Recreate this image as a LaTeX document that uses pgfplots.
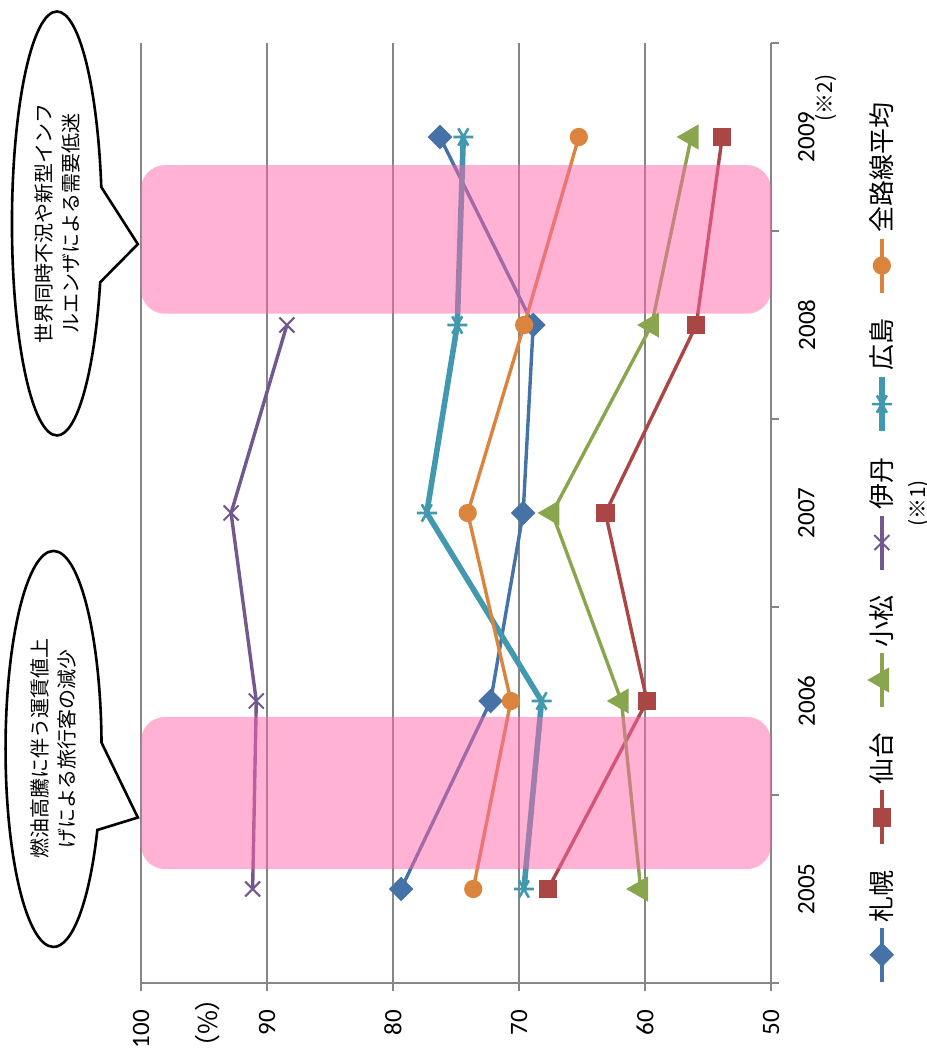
\documentclass[border=0pt]{standalone}
\usepackage{fontspec}
\setmainfont{Carlito}
\newfontfamily\jp{Noto Sans CJK JP}
\usepackage{pgfplots}
\pgfplotsset{compat=1.18}
\usetikzlibrary{shapes.callouts}

\definecolor{sapporo}{HTML}{4572A7}
\definecolor{sendai}{HTML}{AA4643}
\definecolor{komatsu}{HTML}{89A54E}
\definecolor{itami}{HTML}{71588F}
\definecolor{hiroshima}{HTML}{4198AF}
\definecolor{heikin}{HTML}{DB843D}
\definecolor{gridgray}{HTML}{868686}
\definecolor{boxpink}{HTML}{FF66AA}

\begin{document}
% the chart is drawn upright and turned a quarter turn, as in the source
\begin{tikzpicture}[rotate=90, transform shape]
\begin{axis}[
  scale only axis, width=470pt, height=315pt,
  xmin=2004.5, xmax=2009.5, ymin=50, ymax=100,
  axis lines*=left,
  axis line style={gridgray, line width=1pt},
  xtick={2005,2006,2007,2008,2009},
  xticklabels={2005,2006,2007,2008,{2009\makebox[0pt][l]{\hspace{-5pt}\raisebox{-9pt}{\jp\fontsize{10.5}{11}\selectfont(※2)}}}},
  major x tick style={draw=none},
  minor xtick={2004.5,2005.5,2006.5,2007.5,2008.5,2009.5},
  ytick={50,60,70,80,90,100},
  /pgf/number format/assume math mode=true,
  ymajorgrids, grid style={gridgray, line width=1pt},
  tick align=outside, tick style={gridgray, line width=1pt},
  major tick length=4pt, minor tick length=4pt,
  tick label style={font=\fontsize{12.5}{15}\selectfont},
  xticklabel style={yshift=-6pt},
  yticklabel style={xshift=-6pt},
  clip=false,
  legend style={at={(0.47,-0.176)}, anchor=center, draw=none, fill=none,
    legend columns=-1, font=\jp\fontsize{13}{15}\selectfont,
    /tikz/every even column/.append style={column sep=10pt}},
  legend image code/.code={\draw[mark repeat=2, mark phase=2] plot coordinates {(0pt,0pt) (13.5pt,0pt) (27pt,0pt)};},
]
\addplot[sapporo, line width=1.7pt, mark=square*, mark size=3.5pt, mark options={rotate=45, solid}]
  coordinates {(2005,79.36) (2006,72.25) (2007,69.67) (2008,68.87) (2009,76.27)};
\addlegendentry{札幌}
\addplot[sendai, line width=1.7pt, mark=square*, mark size=3.7pt, mark options={solid}]
  coordinates {(2005,67.69) (2006,59.84) (2007,63.14) (2008,55.93) (2009,53.87)};
\addlegendentry{仙台}
\addplot[komatsu, line width=1.7pt, mark=triangle*, mark size=5.6pt, mark options={solid}]
  coordinates {(2005,60.34) (2006,61.87) (2007,67.37) (2008,59.47) (2009,56.33)};
\addlegendentry{小松}
\addplot[itami, line width=1.7pt, mark=x, mark size=5.3pt, mark options={solid, line width=1pt}]
  coordinates {(2005,91.14) (2006,90.85) (2007,92.85) (2008,88.42)};
\addlegendentry{伊丹\makebox[0pt][l]{\hspace{-2.75em}\raisebox{-17pt}[0pt][0pt]{\makebox[2em][c]{\fontsize{10.5}{11}\selectfont(※1)}}}}
\addplot[hiroshima, line width=2.8pt, mark=asterisk, mark size=5pt, mark options={solid, line width=1.3pt}]
  coordinates {(2005,69.61) (2006,68.21) (2007,77.32) (2008,74.90) (2009,74.42)};
\addlegendentry{広島}
\addplot[heikin, line width=1.7pt, mark=*, mark size=3.7pt, mark options={solid}]
  coordinates {(2005,73.63) (2006,70.64) (2007,74.07) (2008,69.59) (2009,65.25)};
\addlegendentry{全路線平均}

% shaded periods
\fill[boxpink, opacity=0.5, rounded corners=12pt] (axis cs:2005.106,50) rectangle (axis cs:2005.915,100);
\fill[boxpink, opacity=0.5, rounded corners=12pt] (axis cs:2008.06,50) rectangle (axis cs:2008.85,100);

\node[inner sep=0pt, font=\jp\fontsize{13}{14}\selectfont] at ([xshift=-20pt]axis cs:2004.5,94.7) {（\%）};

\node[ellipse callout, draw=black, line width=1.3pt, fill=white, minimum width=212pt, minimum height=45pt,
  inner sep=0pt, align=center, font=\jp\fontsize{10}{13.5}\selectfont,
  callout absolute pointer={(axis cs:2008.43,100.25)}, callout pointer arc=26]
  at (axis cs:2008.54,106.67) {世界同時不況や新型インフ\\ルエンザによる需要低迷};
\node[ellipse callout, draw=black, line width=1.3pt, fill=white, minimum width=198pt, minimum height=48pt,
  inner sep=0pt, align=center, font=\jp\fontsize{10}{13.5}\selectfont,
  callout absolute pointer={(axis cs:2005.38,100.25)}, callout pointer arc=26]
  at (axis cs:2005.745,106.94) {燃油高騰に伴う運賃値上\\げによる旅行客の減少};

% page margins as in the source image
\path ([xshift=-39.5pt,yshift=-77.5pt]axis cs:2004.5,50) rectangle ([xshift=21.5pt,yshift=70.5pt]axis cs:2009.5,100);
\end{axis}
\end{tikzpicture}
\end{document}
